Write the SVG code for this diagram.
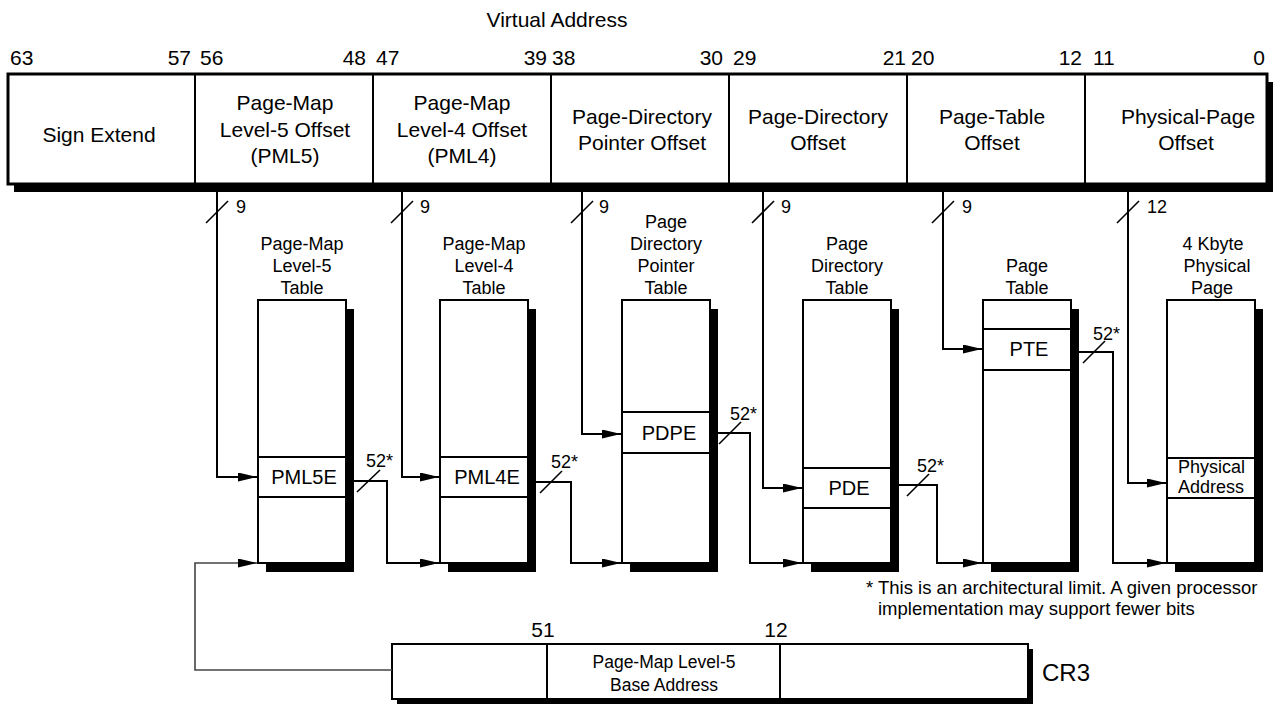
<svg xmlns="http://www.w3.org/2000/svg" width="1286" height="704" viewBox="0 0 1286 704">
<style>
text{font-family:"Liberation Sans",Arial,sans-serif;fill:#000}
.bar{font-size:21px;text-anchor:middle}
.bit{font-size:21px}
.tt{font-size:18px;text-anchor:middle}
.en{font-size:20px;text-anchor:middle}
.lb{font-size:18px}
.fn{font-size:18.5px}
.box{fill:#fff;stroke:#000;stroke-width:2}
.sh{fill:#000}
.ln{fill:none;stroke:#000;stroke-width:2}
.cr{fill:none;stroke:#444;stroke-width:1.6}
</style>
<defs>
<marker id="ah" markerUnits="userSpaceOnUse" markerWidth="20" markerHeight="10" refX="19" refY="4.5" orient="auto">
<path d="M0,0 L19,4.5 L0,9 z" fill="#000"/>
</marker>
</defs>

<text x="557" y="27" class="bar">Virtual Address</text>

<g id="virtual-address">
<rect x="14" y="82" width="1259" height="110" class="sh"/>
<rect x="8" y="74" width="1259" height="110" fill="#fff" stroke="#000" stroke-width="3"/>
<g class="ln">
<line x1="195" y1="74" x2="195" y2="184"/>
<line x1="373" y1="74" x2="373" y2="184"/>
<line x1="551" y1="74" x2="551" y2="184"/>
<line x1="729" y1="74" x2="729" y2="184"/>
<line x1="907" y1="74" x2="907" y2="184"/>
<line x1="1085" y1="74" x2="1085" y2="184"/>
</g>
<g class="bit">
<text x="10" y="65">63</text>
<text x="191" y="65" text-anchor="end">57</text>
<text x="200" y="65">56</text>
<text x="366" y="65" text-anchor="end">48</text>
<text x="376" y="65">47</text>
<text x="547" y="65" text-anchor="end">39</text>
<text x="552" y="65">38</text>
<text x="723" y="65" text-anchor="end">30</text>
<text x="733" y="65">29</text>
<text x="906" y="65" text-anchor="end">21</text>
<text x="911" y="65">20</text>
<text x="1082" y="65" text-anchor="end">12</text>
<text x="1093" y="65">11</text>
<text x="1265" y="65" text-anchor="end">0</text>
</g>
<text x="99" y="142" class="bar">Sign Extend</text>
<text x="285" y="110" class="bar">Page-Map</text>
<text x="285" y="137" class="bar">Level-5 Offset</text>
<text x="285" y="163" class="bar">(PML5)</text>
<text x="462" y="110" class="bar">Page-Map</text>
<text x="462" y="137" class="bar">Level-4 Offset</text>
<text x="462" y="163" class="bar">(PML4)</text>
<text x="642" y="124" class="bar">Page-Directory</text>
<text x="642" y="150" class="bar">Pointer Offset</text>
<text x="818" y="124" class="bar">Page-Directory</text>
<text x="818" y="150" class="bar">Offset</text>
<text x="992" y="124" class="bar">Page-Table</text>
<text x="992" y="150" class="bar">Offset</text>
<text x="1188" y="124" class="bar">Physical-Page</text>
<text x="1186" y="150" class="bar">Offset</text>
</g>

<g id="pml5-table">
<rect x="266" y="309" width="88" height="263" class="sh"/>
<rect x="258" y="300" width="88" height="263" class="box"/>
<line x1="258" y1="457" x2="346" y2="457" class="ln"/>
<line x1="258" y1="497" x2="346" y2="497" class="ln"/>
<text x="302" y="250" class="tt">Page-Map</text>
<text x="302" y="272" class="tt">Level-5</text>
<text x="302" y="294" class="tt">Table</text>
<text x="304" y="484" class="en">PML5E</text>
</g>

<g id="pml4-table">
<rect x="448" y="309" width="88" height="263" class="sh"/>
<rect x="440" y="300" width="88" height="263" class="box"/>
<line x1="440" y1="457" x2="528" y2="457" class="ln"/>
<line x1="440" y1="497" x2="528" y2="497" class="ln"/>
<text x="484" y="250" class="tt">Page-Map</text>
<text x="484" y="272" class="tt">Level-4</text>
<text x="484" y="294" class="tt">Table</text>
<text x="487" y="484" class="en">PML4E</text>
</g>

<g id="pdp-table">
<rect x="630" y="309" width="88" height="263" class="sh"/>
<rect x="622" y="300" width="88" height="263" class="box"/>
<line x1="622" y1="412" x2="710" y2="412" class="ln"/>
<line x1="622" y1="453" x2="710" y2="453" class="ln"/>
<text x="666" y="228" class="tt">Page</text>
<text x="666" y="250" class="tt">Directory</text>
<text x="666" y="272" class="tt">Pointer</text>
<text x="666" y="294" class="tt">Table</text>
<text x="669" y="440" class="en">PDPE</text>
</g>

<g id="pd-table">
<rect x="811" y="309" width="88" height="263" class="sh"/>
<rect x="803" y="300" width="88" height="263" class="box"/>
<line x1="803" y1="468" x2="891" y2="468" class="ln"/>
<line x1="803" y1="508" x2="891" y2="508" class="ln"/>
<text x="847" y="250" class="tt">Page</text>
<text x="847" y="272" class="tt">Directory</text>
<text x="847" y="294" class="tt">Table</text>
<text x="849" y="495" class="en">PDE</text>
</g>

<g id="page-table">
<rect x="991" y="309" width="88" height="263" class="sh"/>
<rect x="983" y="300" width="88" height="263" class="box"/>
<line x1="983" y1="329" x2="1071" y2="329" class="ln"/>
<line x1="983" y1="370" x2="1071" y2="370" class="ln"/>
<text x="1027" y="272" class="tt">Page</text>
<text x="1027" y="294" class="tt">Table</text>
<text x="1029" y="356" class="en">PTE</text>
</g>

<g id="physical-page">
<rect x="1175" y="309" width="88" height="263" class="sh"/>
<rect x="1167" y="300" width="88" height="263" class="box"/>
<line x1="1167" y1="458" x2="1255" y2="458" class="ln"/>
<line x1="1167" y1="498" x2="1255" y2="498" class="ln"/>
<text x="1213" y="250" class="tt">4 Kbyte</text>
<text x="1217" y="272" class="tt">Physical</text>
<text x="1212" y="294" class="tt">Page</text>
<text x="1178" y="473" font-size="18">Physical</text>
<text x="1178" y="493" font-size="18">Address</text>
</g>

<g id="cr3">
<rect x="397" y="649" width="636" height="55" class="sh"/>
<rect x="392" y="644" width="636" height="55" class="box"/>
<line x1="547" y1="644" x2="547" y2="699" class="ln"/>
<line x1="780" y1="644" x2="780" y2="699" class="ln"/>
<text x="543" y="637" class="bit" text-anchor="middle">51</text>
<text x="776" y="637" class="bit" text-anchor="middle">12</text>
<text x="664" y="668" font-size="17.5" text-anchor="middle">Page-Map Level-5</text>
<text x="664" y="691" font-size="17.5" text-anchor="middle">Base Address</text>
<text x="1042" y="681" font-size="24">CR3</text>
</g>

<g id="footnote">
<text x="866" y="594" class="fn">* This is an architectural limit. A given processor</text>
<text x="878" y="615" class="fn">implementation may support fewer bits</text>
</g>

<g id="connectors">
<g class="ln" marker-end="url(#ah)">
<polyline points="217,186 217,477 257,477"/>
<polyline points="402,186 402,477 439,477"/>
<polyline points="582,186 582,434 621,434"/>
<polyline points="763,186 763,488 802,488"/>
<polyline points="943,186 943,349 982,349"/>
<polyline points="1128,186 1128,483 1166,483"/>
<polyline points="353,481 387,481 387,563 439,563"/>
<polyline points="535,482 571,482 571,563 621,563"/>
<polyline points="717,433 750,433 750,563 802,563"/>
<polyline points="897,485 937,485 937,563 982,563"/>
<polyline points="1077,352 1113,352 1113,563 1166,563"/>
</g>
<polyline points="392,670 195,670 195,563 257,563" class="cr" marker-end="url(#ah)"/>
<g stroke="#000" stroke-width="1.6">
<line x1="206" y1="223" x2="228" y2="201"/>
<line x1="391" y1="223" x2="413" y2="201"/>
<line x1="571" y1="223" x2="593" y2="201"/>
<line x1="752" y1="223" x2="774" y2="201"/>
<line x1="932" y1="223" x2="954" y2="201"/>
<line x1="1117" y1="223" x2="1139" y2="201"/>
<line x1="357" y1="492" x2="380" y2="470"/>
<line x1="540" y1="493" x2="562" y2="471"/>
<line x1="719" y1="444" x2="741" y2="422"/>
<line x1="907" y1="496" x2="929" y2="474"/>
<line x1="1083" y1="363" x2="1105" y2="341"/>
</g>
<g class="lb">
<text x="236" y="213">9</text>
<text x="420" y="213">9</text>
<text x="599" y="213">9</text>
<text x="781" y="213">9</text>
<text x="962" y="213">9</text>
<text x="1147" y="213">12</text>
<text x="366" y="467">52*</text>
<text x="551" y="468">52*</text>
<text x="730" y="420">52*</text>
<text x="917" y="472">52*</text>
<text x="1093" y="340">52*</text>
</g>
</g>
</svg>
